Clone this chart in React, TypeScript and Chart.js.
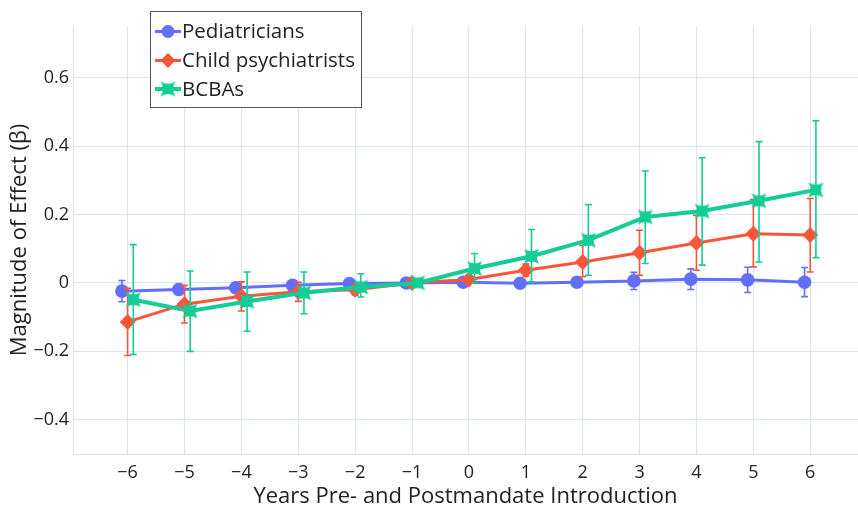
import React, { useEffect, useRef } from "react";
import { Chart, registerables } from "chart.js";

Chart.register(...registerables);

// ---------- data ----------
const years = [-6, -5, -4, -3, -2, -1, 0, 1, 2, 3, 4, 5, 6];
const seriesNames = ["Pediatricians", "Child psychiatrists", "BCBAs"];

const pedValues = [-0.024, -0.019, -0.014, -0.007, -0.002, 0, 0.002, -0.001, 0.002, 0.006, 0.011, 0.009, 0.002];
const pedLower = [-0.055, -0.034, -0.024, -0.015, -0.007, 0, -0.004, -0.009, -0.01, -0.019, -0.019, -0.028, -0.04];
const pedUpper = [0.007, -0.004, -0.004, 0.001, 0.003, 0, 0.008, 0.007, 0.014, 0.031, 0.041, 0.046, 0.045];

const psyValues = [-0.114, -0.062, -0.039, -0.026, -0.02, 0, 0.01, 0.037, 0.061, 0.088, 0.117, 0.144, 0.14];
const psyLower = [-0.212, -0.117, -0.082, -0.054, -0.035, 0, 0.0, 0.02, 0.018, 0.022, 0.037, 0.047, 0.032];
const psyUpper = [-0.016, -0.007, 0.003, 0.002, -0.005, 0, 0.02, 0.055, 0.11, 0.154, 0.198, 0.244, 0.247];

const bcbaValues = [-0.049, -0.082, -0.054, -0.029, -0.012, 0, 0.042, 0.078, 0.125, 0.193, 0.21, 0.24, 0.272];
const bcbaLower = [-0.209, -0.2, -0.141, -0.09, -0.041, 0, 0.0, 0.003, 0.022, 0.057, 0.052, 0.061, 0.074];
const bcbaUpper = [0.112, 0.035, 0.032, 0.032, 0.027, 0, 0.086, 0.156, 0.229, 0.327, 0.366, 0.413, 0.474];

const yTickStep = 0.2;
const xTickStep = 1;

// ---------- styles ----------
const BLUE = "#636efa";
const RED = "#f9553b";
const GREEN = "#14cc96";
const GRID = "#d9e5f6";
const TEXT = "#222222";
const FONT = "'Open Sans', 'Noto Sans', sans-serif";

function makeStarSquare(color: string, rp: number): HTMLCanvasElement {
  const size = Math.ceil(2 * rp + 4);
  const c = document.createElement("canvas");
  c.width = size;
  c.height = size;
  const ctx = c.getContext("2d")!;
  const m = size / 2;
  const k = 0.6 * rp;
  ctx.fillStyle = color;
  ctx.beginPath();
  ctx.moveTo(m - rp, m - rp);
  ctx.quadraticCurveTo(m - rp + k, m, m - rp, m + rp);
  ctx.quadraticCurveTo(m, m + rp - k, m + rp, m + rp);
  ctx.quadraticCurveTo(m + rp - k, m, m + rp, m - rp);
  ctx.quadraticCurveTo(m, m - rp + k, m - rp, m - rp);
  ctx.closePath();
  ctx.fill();
  return c;
}

const errorBarPlugin = {
  id: "errorBars",
  beforeDatasetDraw(chart: any, args: any) {
    const ds = chart.data.datasets[args.index];
    if (!ds.errLower) return;
    const ctx = chart.ctx;
    const yScale = chart.scales.y;
    const area = chart.chartArea;
    ctx.save();
    ctx.beginPath();
    ctx.rect(area.left, area.top, area.right - area.left, area.bottom - area.top);
    ctx.clip();
    ctx.strokeStyle = ds.borderColor;
    ctx.lineWidth = 1.6;
    const cap = 3.5;
    args.meta.data.forEach((pt: any, i: number) => {
      const lo = ds.errLower[i];
      const hi = ds.errUpper[i];
      if (Math.abs(hi - lo) < 1e-9) return;
      const x = pt.x;
      const y1 = yScale.getPixelForValue(lo);
      const y2 = yScale.getPixelForValue(hi);
      ctx.beginPath();
      ctx.moveTo(x, y1);
      ctx.lineTo(x, y2);
      ctx.moveTo(x - cap, y1);
      ctx.lineTo(x + cap, y1);
      ctx.moveTo(x - cap, y2);
      ctx.lineTo(x + cap, y2);
      ctx.stroke();
    });
    ctx.restore();
  },
};

const boxLegendPlugin = {
  id: "boxLegend",
  afterDraw(chart: any) {
    const ctx = chart.ctx;
    const left = 150.5;
    const top = 11.5;
    const w = 211;
    const h = 96;
    ctx.save();
    ctx.fillStyle = "#ffffff";
    ctx.fillRect(left, top, w, h);
    ctx.strokeStyle = "#555555";
    ctx.lineWidth = 1;
    ctx.strokeRect(left, top, w, h);
    const rows = [31.5, 60.5, 89];
    const order = [0, 1, 2];
    order.forEach((dsIndex, r) => {
      const ds = chart.data.datasets[dsIndex];
      const y = rows[r];
      ctx.strokeStyle = ds.borderColor;
      ctx.lineWidth = ds.borderWidth;
      ctx.beginPath();
      ctx.moveTo(155, y);
      ctx.lineTo(181, y);
      ctx.stroke();
      ctx.fillStyle = ds.borderColor;
      const cx = 168;
      if (ds.pointStyle === "circle") {
        ctx.beginPath();
        ctx.arc(cx, y, 6.5, 0, Math.PI * 2);
        ctx.fill();
      } else if (ds.pointStyle === "rectRot") {
        const r0 = 7.5;
        ctx.beginPath();
        ctx.moveTo(cx - r0, y);
        ctx.lineTo(cx, y - r0);
        ctx.lineTo(cx + r0, y);
        ctx.lineTo(cx, y + r0);
        ctx.closePath();
        ctx.fill();
      } else {
        const img = ds.pointStyle as HTMLCanvasElement;
        ctx.drawImage(img, cx - img.width / 2, y - img.height / 2);
      }
      ctx.fillStyle = TEXT;
      ctx.font = `20.5px ${FONT}`;
      ctx.textBaseline = "middle";
      ctx.textAlign = "left";
      ctx.fillText(ds.label, 182, y + 1);
    });
    ctx.restore();
  },
};

function fmtMinus(s: string) {
  return s.replace("-", "\u2212");
}

export default function App() {
  const ref = useRef<HTMLCanvasElement | null>(null);

  useEffect(() => {
    if (!ref.current) return;
    const star = makeStarSquare(GREEN, 7.5);

    const mk = (vals: number[], offset: number) =>
      years.map((yr, i) => ({ x: yr + offset, y: vals[i] }));

    const chart = new Chart(ref.current, {
      type: "line",
      data: {
        datasets: [
          {
            label: seriesNames[0],
            data: mk(pedValues, -0.1),
            borderColor: BLUE,
            backgroundColor: BLUE,
            borderWidth: 3,
            pointStyle: "circle",
            pointRadius: 6.8,
            pointBorderWidth: 0,
            pointBackgroundColor: BLUE,
            order: 2,
            errLower: pedLower,
            errUpper: pedUpper,
          } as any,
          {
            label: seriesNames[1],
            data: mk(psyValues, 0),
            borderColor: RED,
            backgroundColor: RED,
            borderWidth: 3,
            pointStyle: "rectRot",
            pointRadius: 8,
            pointBorderWidth: 0,
            pointBackgroundColor: RED,
            order: 1,
            errLower: psyLower,
            errUpper: psyUpper,
          } as any,
          {
            label: seriesNames[2],
            data: mk(bcbaValues, 0.1),
            borderColor: GREEN,
            backgroundColor: GREEN,
            borderWidth: 4,
            pointStyle: star,
            pointRadius: 8,
            pointBorderWidth: 0,
            pointBackgroundColor: GREEN,
            order: 0,
            errLower: bcbaLower,
            errUpper: bcbaUpper,
          } as any,
        ],
      },
      options: {
        responsive: false,
        animation: false,
        layout: { autoPadding: false, padding: { top: 26, left: 0, right: 0, bottom: 0 } },
        plugins: {
          legend: { display: false },
          tooltip: { enabled: false },
        },
        elements: { line: { tension: 0 } },
        scales: {
          x: {
            type: "linear",
            min: -6.96,
            max: 6.84,
            afterFit: (s: any) => {
              s.height = 58;
              s.paddingLeft = 0;
              s.paddingRight = 0;
            },
            grid: { color: GRID, lineWidth: 1, drawTicks: false },
            border: { display: true, color: GRID, width: 1 },
            ticks: {
              stepSize: xTickStep,
              includeBounds: false,
              autoSkip: false,
              maxRotation: 0,
              padding: 8,
              color: TEXT,
              font: { family: FONT, size: 18 },
              callback: (v: any) => fmtMinus(String(v)),
            },
            title: {
              display: true,
              text: "Years Pre- and Postmandate Introduction",
              color: TEXT,
              font: { family: FONT, size: 22 },
              padding: { top: 0, bottom: 2 },
            },
          },
          y: {
            type: "linear",
            min: -0.5,
            max: 0.751,
            afterFit: (s: any) => {
              s.width = 73;
            },
            grid: { color: GRID, lineWidth: 1, drawTicks: false },
            border: { display: true, color: GRID, width: 1 },
            ticks: {
              stepSize: yTickStep,
              includeBounds: false,
              padding: 4,
              color: TEXT,
              font: { family: FONT, size: 18 },
              callback: (v: any) => {
                const n = Number(v);
                if (Math.abs(n) < 1e-9) return "0";
                return fmtMinus(n.toFixed(1));
              },
            },
            title: {
              display: true,
              text: "Magnitude of Effect (\u03b2)",
              color: TEXT,
              font: { family: FONT, size: 22 },
              padding: { top: 7, bottom: 0 },
            },
          },
        },
      },
      plugins: [errorBarPlugin, boxLegendPlugin],
    });

    return () => chart.destroy();
  }, []);

  return (
    <div style={{ position: "fixed", left: 0, top: 0, width: 858, height: 512, background: "#fff" }}>
      <canvas ref={ref} width={858} height={512} style={{ width: 858, height: 512, display: "block" }} />
    </div>
  );
}
